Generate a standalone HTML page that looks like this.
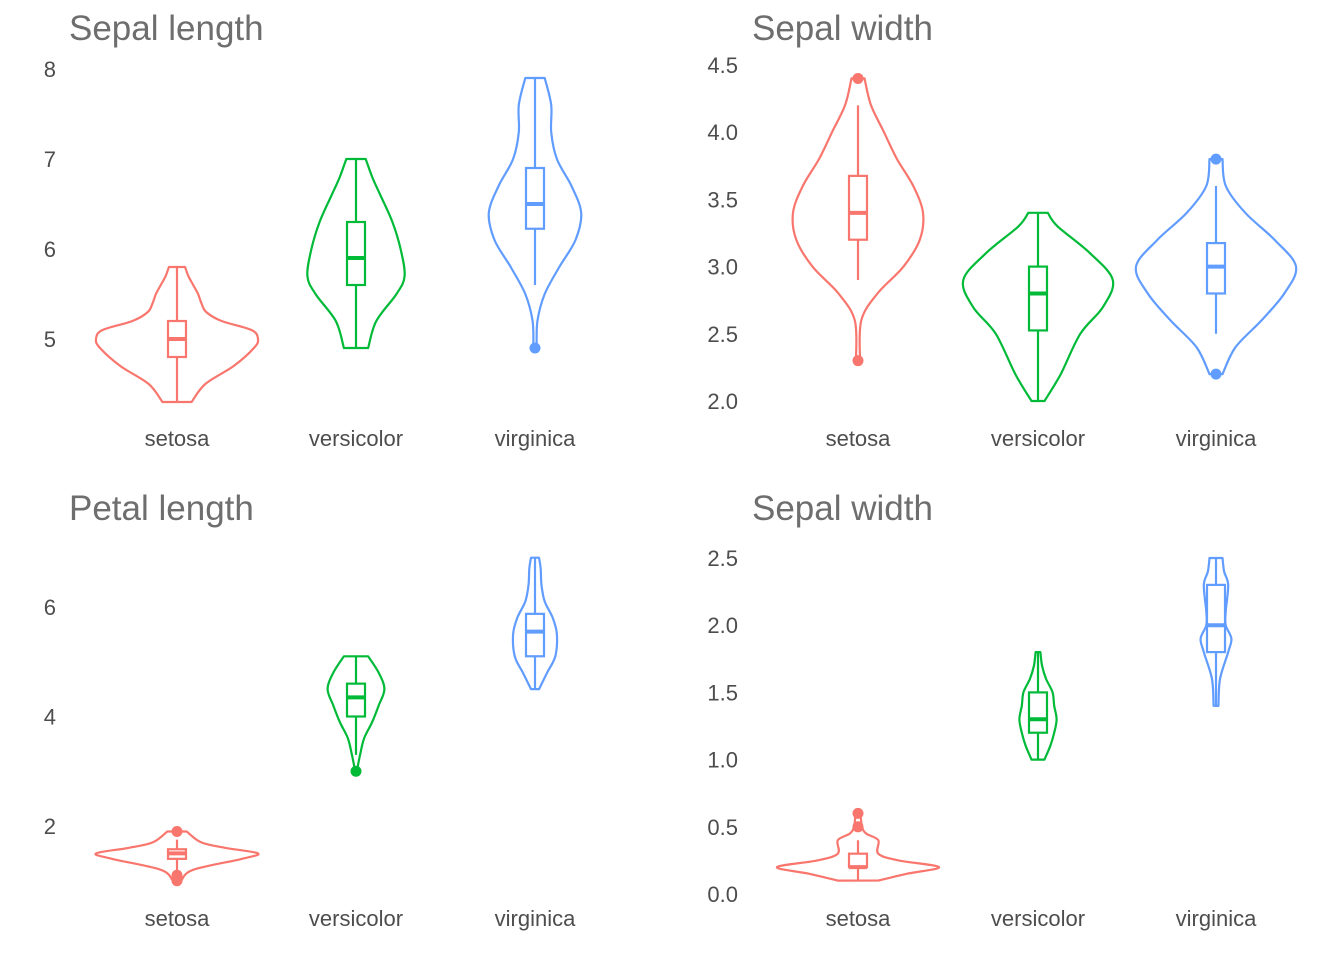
<!DOCTYPE html>
<html><head><meta charset="utf-8">
<style>
html,body{margin:0;padding:0;background:#fff;}
svg{display:block;font-family:"Liberation Sans",Arial,sans-serif;}
.title{font-size:35px;fill:#6e6e6e;}
.tick{font-size:22px;fill:#4d4d4d;}
</style></head>
<body>
<svg id="chart" width="1344" height="960" viewBox="0 0 1344 960"></svg>
<script>
// ===== Data =====
const categories = ["setosa","versicolor","virginica"];
const colors = ["#F8766D","#00BA38","#619CFF"];
const titles = ["Sepal length","Sepal width","Petal length","Sepal width"];
const ticks1 = [5,6,7,8];
const ticks2 = [2.0,2.5,3.0,3.5,4.0,4.5];
const ticks3 = [2,4,6];
const ticks4 = [0.0,0.5,1.0,1.5,2.0,2.5];

// violin profiles: values and relative densities
const p1SetosaV = [4.3,4.5,4.7,4.9,5.0,5.1,5.2,5.3,5.4,5.5,5.6,5.7,5.8];
const p1SetosaD = [0.18,0.35,0.7,0.95,1.0,0.92,0.55,0.36,0.3,0.26,0.2,0.14,0.1];
const p1VersV = [4.9,5.2,5.5,5.7,6.0,6.3,6.6,6.8,7.0];
const p1VersD = [0.15,0.25,0.5,0.6,0.55,0.45,0.3,0.2,0.12];
const p1VirgV = [4.9,5.2,5.5,5.8,6.1,6.4,6.7,7.0,7.3,7.6,7.9];
const p1VirgD = [0.02,0.03,0.12,0.3,0.5,0.57,0.45,0.27,0.2,0.2,0.12];

const p2SetosaV = [2.3,2.6,2.8,3.0,3.2,3.4,3.6,3.8,4.0,4.2,4.4];
const p2SetosaD = [0.03,0.05,0.3,0.7,0.95,1.0,0.85,0.6,0.4,0.2,0.1];
const p2VersV = [2.0,2.2,2.5,2.7,2.9,3.1,3.3,3.4];
const p2VersD = [0.1,0.35,0.65,1.0,1.15,0.8,0.3,0.15];
const p2VirgV = [2.2,2.4,2.6,2.8,3.0,3.2,3.4,3.6,3.8];
const p2VirgD = [0.1,0.3,0.7,1.05,1.23,0.9,0.45,0.15,0.1];

const p3SetosaV = [1.0,1.2,1.4,1.5,1.6,1.7,1.9];
const p3SetosaD = [0.05,0.2,0.8,1.0,0.6,0.3,0.12];
const p3VersV = [3.0,3.3,3.6,3.9,4.2,4.5,4.8,5.1];
const p3VersD = [0.01,0.05,0.1,0.2,0.28,0.35,0.28,0.15];
const p3VirgV = [4.5,4.8,5.1,5.5,5.8,6.1,6.4,6.7,6.9];
const p3VirgD = [0.05,0.15,0.25,0.27,0.22,0.12,0.08,0.07,0.05];

const p4SetosaV = [0.1,0.15,0.2,0.25,0.3,0.4,0.45,0.5,0.6];
const p4SetosaD = [0.25,0.6,1.0,0.5,0.25,0.25,0.1,0.05,0.03];
const p4VersV = [1.0,1.1,1.2,1.3,1.4,1.5,1.6,1.7,1.8];
const p4VersD = [0.08,0.15,0.2,0.23,0.2,0.18,0.1,0.05,0.03];
const p4VirgV = [1.4,1.6,1.8,1.9,2.0,2.1,2.3,2.4,2.5];
const p4VirgD = [0.03,0.05,0.15,0.19,0.12,0.12,0.15,0.1,0.08];

// box stats: [lowWhisker, q1, median, q3, highWhisker]
const p1Box = [[4.3,4.8,5.0,5.2,5.8],[4.9,5.6,5.9,6.3,7.0],[5.6,6.225,6.5,6.9,7.9]];
const p2Box = [[2.9,3.2,3.4,3.675,4.2],[2.0,2.525,2.8,3.0,3.4],[2.5,2.8,3.0,3.175,3.6]];
const p3Box = [[1.15,1.4,1.5,1.575,1.75],[3.3,4.0,4.35,4.6,5.1],[4.5,5.1,5.55,5.875,6.9]];
const p4Box = [[0.1,0.2,0.2,0.3,0.4],[1.0,1.2,1.3,1.5,1.8],[1.4,1.8,2.0,2.3,2.5]];
// outliers
const p1Out = [[],[],[4.9]];
const p2Out = [[2.3,4.4],[],[2.2,3.8]];
const p3Out = [[1.0,1.1,1.9],[3.0],[]];
const p4Out = [[0.5,0.6],[],[]];

// ===== Layout (not data) =====
const panels = [
  {title:titles[0], ticks:ticks1, tickFmt:v=>v.toFixed(0), y0:5, py0:339, ppu:90, cx:[177,356,535], labelX:56, titleX:69, titleY:40, catY:446, wUnit:81,
   V:[p1SetosaV,p1VersV,p1VirgV], D:[p1SetosaD,p1VersD,p1VirgD], box:p1Box, out:p1Out},
  {title:titles[1], ticks:ticks2, tickFmt:v=>v.toFixed(1), y0:2.0, py0:401, ppu:134.4, cx:[858,1038,1216], labelX:738, titleX:752, titleY:40, catY:446, wUnit:65,
   V:[p2SetosaV,p2VersV,p2VirgV], D:[p2SetosaD,p2VersD,p2VirgD], box:p2Box, out:p2Out},
  {title:titles[2], ticks:ticks3, tickFmt:v=>v.toFixed(0), y0:2, py0:826, ppu:54.75, cx:[177,356,535], labelX:56, titleX:69, titleY:520, catY:926, wUnit:81,
   V:[p3SetosaV,p3VersV,p3VirgV], D:[p3SetosaD,p3VersD,p3VirgD], box:p3Box, out:p3Out},
  {title:titles[3], ticks:ticks4, tickFmt:v=>v.toFixed(1), y0:0, py0:894, ppu:134.4, cx:[858,1038,1216], labelX:738, titleX:752, titleY:520, catY:926, wUnit:81,
   V:[p4SetosaV,p4VersV,p4VirgV], D:[p4SetosaD,p4VersD,p4VirgD], box:p4Box, out:p4Out}
];

const NS="http://www.w3.org/2000/svg";
const svg=document.getElementById("chart");
function mk(tag,attrs,parent){const e=document.createElementNS(NS,tag);for(const k in attrs)e.setAttribute(k,attrs[k]);(parent||svg).appendChild(e);return e;}

function smooth(pts){
  let d="M"+pts[0][0]+","+pts[0][1];
  for(let i=0;i<pts.length-1;i++){
    const p0=pts[Math.max(0,i-1)],p1=pts[i],p2=pts[i+1],p3=pts[Math.min(pts.length-1,i+2)];
    const c1=[p1[0]+(p2[0]-p0[0])/6,p1[1]+(p2[1]-p0[1])/6];
    const c2=[p2[0]-(p3[0]-p1[0])/6,p2[1]-(p3[1]-p1[1])/6];
    d+=" C"+c1[0].toFixed(1)+","+c1[1].toFixed(1)+" "+c2[0].toFixed(1)+","+c2[1].toFixed(1)+" "+p2[0].toFixed(1)+","+p2[1].toFixed(1);
  }
  return d;
}

panels.forEach((P,pi)=>{
  const g=mk("g",{});
  
  
  const yS=v=>P.py0-(v-P.y0)*P.ppu;
  const t=mk("text",{x:P.titleX,y:P.titleY,class:"title"},g);t.textContent=P.title;
  
  
  P.ticks.forEach(v=>{
    const tx=mk("text",{x:P.labelX,y:yS(v)+8,class:"tick","text-anchor":"end"},g);tx.textContent=P.tickFmt(v);
    
    
  });
  categories.forEach((c,ci)=>{
    const cx=P.cx[ci],col=colors[ci];
    const lab=mk("text",{x:cx,y:P.catY,class:"tick","text-anchor":"middle"},g);lab.textContent=c;
    
    
    const V=P.V[ci],D=P.D[ci];
    const right=V.map((v,i)=>[cx+D[i]*P.wUnit,yS(v)]);
    const left=V.map((v,i)=>[cx-D[i]*P.wUnit,yS(v)]).reverse();
    const d=smooth(right)+" L"+left[0][0].toFixed(1)+","+left[0][1].toFixed(1)+" "+smooth(left).slice(1).replace(/^[^C]*/,"")+" Z";
    const vp=mk("path",{d:d,fill:"none",stroke:col,"stroke-width":2.2,"stroke-linejoin":"round"},g);
    
    
    const b=P.box[ci],hw=9;
    const wl=mk("line",{x1:cx,x2:cx,y1:yS(b[0]),y2:yS(b[1]),stroke:col,"stroke-width":2.2},g);
    
    
    const wh=mk("line",{x1:cx,x2:cx,y1:yS(b[3]),y2:yS(b[4]),stroke:col,"stroke-width":2.2},g);
    
    
    const r=mk("rect",{x:cx-hw,y:yS(b[3]),width:2*hw,height:Math.max(1,yS(b[1])-yS(b[3])),fill:"#fff",stroke:col,"stroke-width":2.2},g);
    
    
    const m=mk("line",{x1:cx-hw,x2:cx+hw,y1:yS(b[2]),y2:yS(b[2]),stroke:col,"stroke-width":4},g);
    
    
    P.out[ci].forEach(o=>{
      const pt=mk("circle",{cx:cx,cy:yS(o),r:5.5,fill:col},g);
      
      
    });
  });
});
</script>
</body></html>
